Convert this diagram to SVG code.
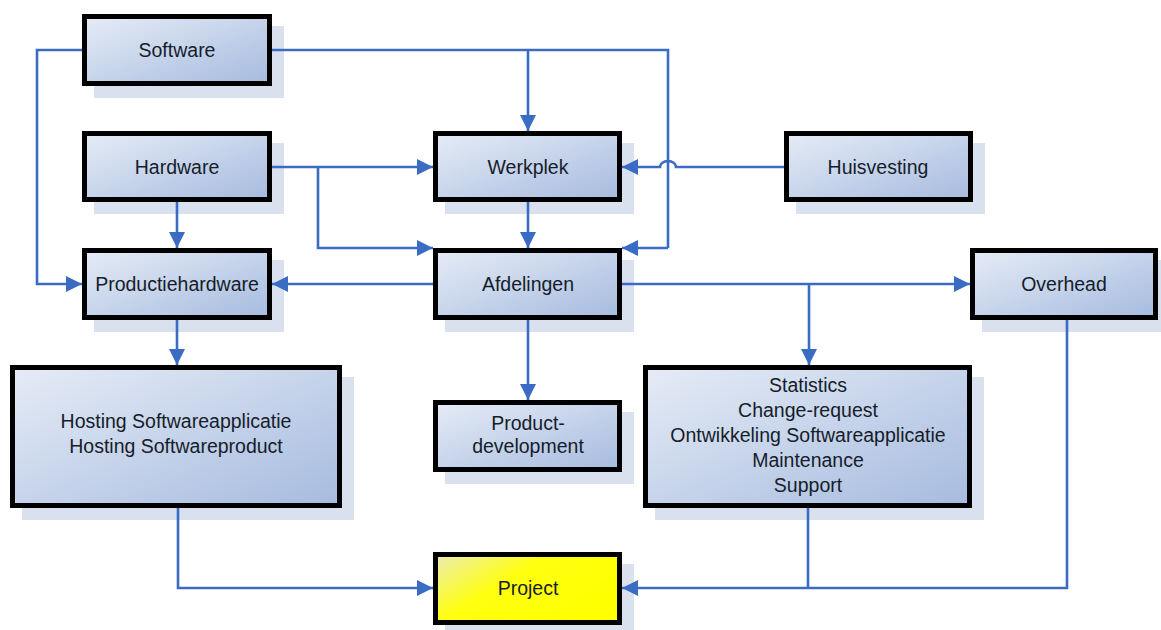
<svg xmlns="http://www.w3.org/2000/svg" width="1161" height="630" viewBox="0 0 1161 630">
  <defs>
    <linearGradient id="gBlue" x1="0" y1="0" x2="1" y2="1">
      <stop offset="0" stop-color="#e6ecf6"/>
      <stop offset="1" stop-color="#a6bbdf"/>
    </linearGradient>
    <linearGradient id="gYellow" x1="0" y1="0" x2="1" y2="0.6">
      <stop offset="0" stop-color="#ecebb4"/>
      <stop offset="0.45" stop-color="#ffff10"/>
      <stop offset="1" stop-color="#ffff00"/>
    </linearGradient>
    <marker id="arr" markerUnits="userSpaceOnUse" markerWidth="16" markerHeight="16" refX="16" refY="8" orient="auto">
      <path d="M0,0 L16,8 L0,16 z" fill="#3a6cc4"/>
    </marker>
    <style>
      .shadow { fill: #d9e0ee; }
      .box { fill: url(#gBlue); stroke: #000; stroke-width: 5; }
      .yellow { fill: url(#gYellow); stroke: #000; stroke-width: 5; }
      .lbl { font-family: "Liberation Sans", Arial, sans-serif; font-size: 19.5px; fill: #161d2a; text-anchor: middle; }
      .conn { fill: none; stroke: #3a6cc4; stroke-width: 2.6; }
      .conn path.a { marker-end: url(#arr); }
    </style>
  </defs>
  <rect width="1161" height="630" fill="#ffffff"/>

  <g id="software">
    <rect class="shadow" x="94" y="26" width="190" height="72"/>
    <rect class="box" x="84.5" y="16.5" width="185" height="67"/>
    <text class="lbl" x="177" y="57">Software</text>
  </g>
  <g id="hardware">
    <rect class="shadow" x="94" y="143" width="190" height="71"/>
    <rect class="box" x="84.5" y="133.5" width="185" height="66"/>
    <text class="lbl" x="177" y="174">Hardware</text>
  </g>
  <g id="werkplek">
    <rect class="shadow" x="445" y="143" width="189" height="71"/>
    <rect class="box" x="435.5" y="133.5" width="184" height="66"/>
    <text class="lbl" x="528" y="174">Werkplek</text>
  </g>
  <g id="huisvesting">
    <rect class="shadow" x="796" y="143" width="189" height="71"/>
    <rect class="box" x="786.5" y="133.5" width="184" height="66"/>
    <text class="lbl" x="878" y="174">Huisvesting</text>
  </g>
  <g id="productiehardware">
    <rect class="shadow" x="94" y="260" width="190" height="72"/>
    <rect class="box" x="84.5" y="250.5" width="185" height="67"/>
    <text class="lbl" x="177" y="291">Productiehardware</text>
  </g>
  <g id="afdelingen">
    <rect class="shadow" x="445" y="260" width="189" height="72"/>
    <rect class="box" x="435.5" y="250.5" width="184" height="67"/>
    <text class="lbl" x="528" y="291">Afdelingen</text>
  </g>
  <g id="overhead">
    <rect class="shadow" x="982" y="260" width="179" height="72"/>
    <rect class="box" x="972.5" y="250.5" width="183" height="67"/>
    <text class="lbl" x="1064" y="291">Overhead</text>
  </g>
  <g id="hosting">
    <rect class="shadow" x="22" y="377" width="332" height="143"/>
    <rect class="box" x="12.5" y="367.5" width="327" height="138"/>
    <text class="lbl" x="176" y="428">Hosting Softwareapplicatie</text>
    <text class="lbl" x="176" y="453">Hosting Softwareproduct</text>
  </g>
  <g id="productdevelopment">
    <rect class="shadow" x="445" y="412" width="189" height="72"/>
    <rect class="box" x="435.5" y="402.5" width="184" height="67"/>
    <text class="lbl" x="528" y="430">Product-</text>
    <text class="lbl" x="528" y="453">development</text>
  </g>
  <g id="statistics">
    <rect class="shadow" x="655" y="377" width="329" height="143"/>
    <rect class="box" x="645.5" y="367.5" width="324" height="138"/>
    <text class="lbl" x="808" y="392">Statistics</text>
    <text class="lbl" x="808" y="417">Change-request</text>
    <text class="lbl" x="808" y="442">Ontwikkeling Softwareapplicatie</text>
    <text class="lbl" x="808" y="467">Maintenance</text>
    <text class="lbl" x="808" y="492">Support</text>
  </g>
  <g id="project">
    <rect class="shadow" x="445" y="564" width="189" height="66"/>
    <rect class="yellow" x="435.5" y="554.5" width="184" height="68"/>
    <text class="lbl" x="528" y="595">Project</text>
  </g>

  <g id="connectors" class="conn">
    <path class="a" d="M82,50 H37 V284 H82"/>
    <path d="M272,50 H668 V248"/>
    <path class="a" d="M668,248 H622"/>
    <path class="a" d="M528,50 V131"/>
    <path class="a" d="M272,167 H433"/>
    <path class="a" d="M318,167 V248 H433"/>
    <path class="a" d="M177,202 V248"/>
    <path class="a" d="M784,167 H676 A8,6 0 0 0 660,167 H622"/>
    <path class="a" d="M528,202 V248"/>
    <path class="a" d="M433,284 H272"/>
    <path class="a" d="M622,284 H970"/>
    <path class="a" d="M809,284 V365"/>
    <path class="a" d="M528,320 V400"/>
    <path class="a" d="M177,320 V365"/>
    <path class="a" d="M178,508 V588 H433"/>
    <path d="M808,508 V588"/>
    <path class="a" d="M1067,320 V588 H622"/>
  </g>
</svg>
